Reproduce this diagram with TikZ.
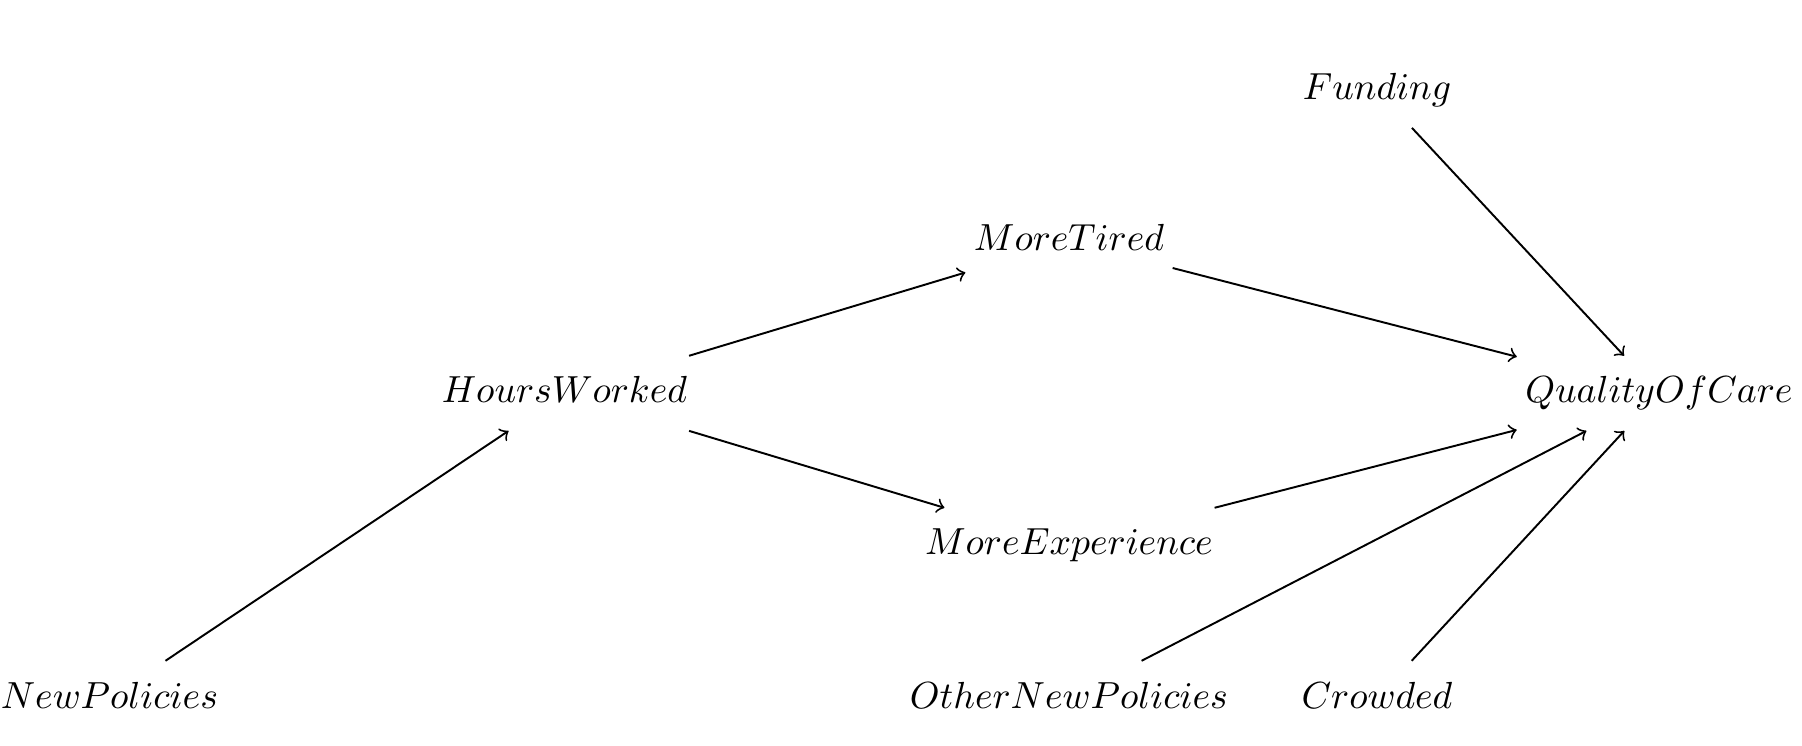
\documentclass[tikz,border=0pt]{standalone}
\usepackage{graphicx}
\newcommand{\varlabel}[1]{\scalebox{0.975}{$#1$}}
\begin{document}
\begin{tikzpicture}[x=0.2584pt,y=-0.2584pt,
  var/.style={anchor=base,inner xsep=2pt,inner ysep=5pt,text height=7pt,text depth=2pt},
  edge/.style={->,line width=0.5pt}]
\useasboundingbox (0,0) rectangle (1802,746);
\node[var] (fund) at (1377,100) {\varlabel{Funding}};
\node[var] (tired) at (1069,251) {\varlabel{MoreTired}};
\node[var] (hours) at (564.5,403) {\varlabel{HoursWorked}};
\node[var] (qoc) at (1659,403) {\varlabel{QualityOfCare}};
\node[var] (exp) at (1069,555) {\varlabel{MoreExperience}};
\node[var] (newpol) at (109.5,708) {\varlabel{NewPolicies}};
\node[var] (othpol) at (1069,708) {\varlabel{OtherNewPolicies}};
\node[var] (crowd) at (1377,708) {\varlabel{Crowded}};
\draw[edge] (newpol) -- (hours);
\draw[edge] (hours) -- (tired);
\draw[edge] (hours) -- (exp);
\draw[edge] (tired) -- (qoc);
\draw[edge] (exp) -- (qoc);
\draw[edge] (fund) -- (qoc);
\draw[edge] (othpol) -- (qoc);
\draw[edge] (crowd) -- (qoc);
\end{tikzpicture}
\end{document}
